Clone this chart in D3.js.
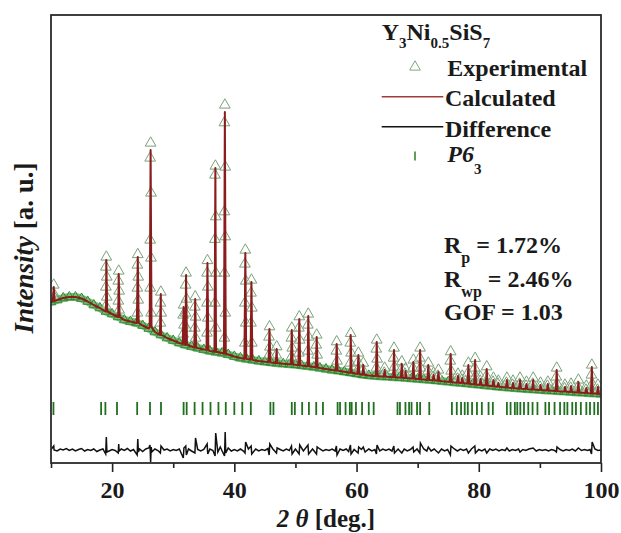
<!DOCTYPE html>
<html><head><meta charset="utf-8">
<script src="https://cdn.jsdelivr.net/npm/d3@7"></script>
<style>body{margin:0;background:#fff}svg{display:block}</style>
</head><body><svg id="c" width="621" height="533"></svg>
<script>
// ---------------- DATA ----------------
const xTicks = [20, 40, 60, 80, 100];
const xMinorTicks = [10, 30, 50, 70, 90];

// background (observed ≈ calculated) intensity, a.u.
const bgAngle = [10,11,12,13,14,15,16,17,18,19,20,21,22,23,24,25,26,27,28,29,30,31,32,33,34,35,36,37,38,39,40,41,42,43,44,45,46,47,48,49,50,51,52,53,54,55,56,57,58,59,60,61,62,63,64,65,66,67,68,69,70,71,72,73,74,75,76,77,78,79,80,81,82,83,84,85,86,87,88,89,90,91,92,93,94,95,96,97,98,99,100];
const bgInt = [1610,1630,1650,1660,1660,1645,1615,1580,1550,1515,1490,1460,1430,1415,1400,1375,1345,1310,1280,1250,1225,1200,1180,1165,1150,1135,1120,1110,1100,1085,1065,1050,1040,1030,1020,1012,1005,998,992,987,982,975,968,960,950,940,930,922,912,903,893,882,875,870,866,862,858,854,850,845,840,835,830,824,818,812,806,800,794,788,782,776,770,763,757,752,747,742,738,734,730,726,722,718,714,710,706,702,698,694,690];

// reflections: position, background under peak, calculated top, observed points (top first)
const peakAngle = [10.45,19.05,21.08,24.2,26.3,27.97,31.7,32.1,33.6,35.6,36.9,38.45,41.8,42.8,45.75,46.93,49.4,50.63,52.1,53.48,56.75,59.04,60.3,61.1,63.3,64.6,66.13,67.4,68.0,69.3,70.4,71.74,72.6,73.4,75.4,76.6,77.3,78.3,79.4,80.3,81.3,82.4,83.2,84.6,85.6,86.75,87.8,88.9,90.1,91.3,92.75,94.1,95.1,96.3,97.6,98.5,99.5];
const peakBase = [1620,1515,1460,1400,1360,1280,1190,1182,1155,1132,1112,1093,1042,1036,1010,1000,987,978,967,955,925,903,890,882,869,864,857,853,850,844,838,831,827,822,810,803,800,792,786,780,774,767,762,754,750,743,740,734,730,725,719,714,710,704,700,696,692];
const peakCalc = [1760,2030,1890,2060,3130,1690,1560,1880,1640,2000,2950,3510,2100,1810,1340,1140,1330,1440,1470,1260,1190,1280,1080,980,1210,930,1130,990,920,1010,1130,980,880,910,1090,870,850,980,1030,840,940,830,800,830,800,830,790,830,780,790,930,760,770,810,750,960,760];
const peakObs = [
 [1780,1700,1660],
 [2060,1960,1860,1760,1660,1570],
 [1920,1820,1720,1620,1530],
 [2085,1980,1860,1750,1630,1500],
 [3200,3050,2700,2230,2050,1750,1500],
 [1710,1600,1500,1400],
 [1580,1480,1380,1290],
 [1900,1780,1640,1500,1350],
 [1663,1560,1460,1350,1250],
 [2025,1900,1760,1600,1450,1300],
 [2970,2880,2463,2237,1900,1600,1350],
 [3580,3403,2960,2513,2263,1900,1500,1250],
 [2130,1990,1820,1600,1400,1200],
 [1830,1700,1550,1400,1200],
 [1363,1260,1160,1080],
 [1163,1080],
 [1350,1250,1150,1060],
 [1463,1350,1230,1100],
 [1490,1380,1260,1120],
 [1280,1180,1080],
 [1213,1120,1020],
 [1297,1200,1100,1000],
 [1100,1010,950],
 [1000,930],
 [1230,1140,1040,950],
 [950,900],
 [1150,1050,960],
 [1013,940],
 [940,890],
 [1030,950],
 [1150,1050,950],
 [1000,920],
 [900,860],
 [930,870],
 [1113,1020,920],
 [890,840],
 [870,830],
 [1000,900],
 [1047,950,870],
 [860,820],
 [963,870],
 [850,810],
 [820,790],
 [850,800],
 [820,780],
 [850,790],
 [810,770],
 [850,790],
 [800,760],
 [810,770],
 [950,860,790],
 [780,745],
 [790,750],
 [830,760],
 [770,730],
 [980,880,790],
 [780,730]
];

// Bragg reflection positions, P6_3
const braggAngle = [10.4,18.2,18.9,20.8,24.1,26.2,28.0,31.7,32.2,33.5,34.8,36.1,37.4,38.6,40.0,41.3,42.7,45.9,46.4,49.4,49.9,51.1,52.2,53.4,54.5,56.9,57.3,58.2,58.9,59.2,59.9,60.9,62.0,62.8,66.7,67.1,68.0,68.6,69.0,69.9,70.4,71.9,75.6,76.4,77.1,77.7,78.2,78.9,79.7,80.5,81.6,82.3,84.6,85.2,85.9,86.3,86.8,87.4,88.1,88.8,89.6,90.9,91.5,92.4,93.3,94.0,94.5,95.3,95.9,96.7,97.6,98.2,98.9,99.5];

// difference curve (obs - calc), a.u.
const diffAngle = [10.0,10.45,10.5,11.0,11.5,12.0,12.5,13.0,13.5,14.0,14.5,15.0,15.5,16.0,16.5,17.0,17.5,18.0,18.5,18.95,19.05,19.15,19.5,20.0,20.5,21.0,21.08,21.15,21.5,22.0,22.5,23.0,23.5,24.1,24.2,24.3,24.5,25.0,25.5,26.0,26.2,26.3,26.4,26.5,27.0,27.5,27.9,28.0,28.5,29.0,29.5,30.0,30.5,31.0,31.65,31.75,32.05,32.15,32.5,33.0,33.55,33.65,34.0,34.5,35.0,35.55,35.65,36.0,36.5,36.85,36.95,37.3,37.7,38.0,38.4,38.5,38.6,39.0,39.5,40.0,40.5,41.0,41.5,41.75,41.85,42.3,42.75,42.85,43.5,44.0,44.5,45.0,45.5,45.7,45.8,46.3,46.9,47.0,47.5,48.0,48.5,49.0,49.35,49.45,50.0,50.6,50.7,51.3,52.05,52.15,52.8,53.45,53.55,54.0,54.5,55.0,55.5,56.0,56.5,56.7,56.8,57.3,57.8,58.3,58.7,59.0,59.1,59.6,60.25,60.35,60.8,61.1,61.4,62.0,62.5,63.0,63.25,63.35,63.8,64.3,64.8,65.3,65.8,66.1,66.2,66.8,67.4,67.8,68.3,68.8,69.25,69.35,69.9,70.35,70.45,71.0,71.5,71.74,72.2,72.7,73.4,73.9,74.4,74.9,75.35,75.45,76.0,76.5,77.0,77.5,78.0,78.3,78.8,79.35,79.45,80.0,80.5,81.0,81.3,81.8,82.3,82.8,83.3,83.8,84.3,84.6,85.0,85.5,86.0,86.5,86.75,87.2,87.7,88.2,88.9,89.4,89.9,90.4,90.9,91.4,91.9,92.4,92.7,92.8,93.3,93.8,94.3,94.8,95.3,95.8,96.3,96.8,97.3,97.8,98.2,98.45,98.55,99.0,99.5,100.0];
const diffVal = [5,40,0,-10,10,0,15,-5,10,-10,5,15,-10,5,-5,10,-15,0,10,-40,130,-20,-10,5,-5,-30,60,-10,10,-5,15,-10,5,-50,110,-20,10,-15,10,20,50,-120,30,-20,10,-5,-30,40,0,10,-10,5,-5,10,-80,20,40,-50,10,-10,-30,120,5,-10,5,60,-40,10,-5,-60,170,-20,30,-10,-60,180,-30,20,-10,5,-10,10,-10,-30,80,10,40,-40,10,-10,5,-5,15,-50,60,10,-30,20,5,-10,10,-5,40,-40,10,-40,50,-10,50,-40,10,-40,30,10,-10,5,-5,10,-10,40,-50,10,-5,10,-15,50,-40,5,-30,30,5,30,-20,10,-10,5,-40,50,-10,10,-5,10,-10,40,-30,10,-30,10,-10,5,30,-20,10,-30,70,10,-10,30,-10,10,-30,10,-10,5,-50,40,10,-10,10,-5,10,-30,10,40,-30,5,-10,10,-30,10,-5,10,-10,5,-5,20,-10,5,-5,10,-20,5,-5,10,20,-10,5,-5,5,-10,5,-5,-20,30,5,-10,5,-5,10,-10,20,-5,5,-5,5,-40,80,10,-5,0];

// ---------------- DRAWING ----------------
const SERIF = '"Liberation Serif","Times New Roman",serif';
const diffOffset = 130;
const braggLevel = 545;

const svg = d3.select('#c');
const x = d3.scaleLinear().domain([10, 100]).range([51, 601]);
const y = d3.scaleLinear().domain([0, 4480]).range([463, 15]);

svg.append('defs').append('clipPath').attr('id', 'clip')
  .append('rect').attr('x', 51).attr('y', 15).attr('width', 550).attr('height', 448);
const g = svg.append('g').attr('clip-path', 'url(#clip)');

const bgPts = bgAngle.map((a, i) => [a, bgInt[i]]);
const line = d3.line().x(d => x(d[0])).y(d => y(d[1]));

// observed band
g.append('path').datum(bgPts).attr('d', line)
  .attr('fill', 'none').attr('stroke', '#4fa64f').attr('stroke-width', 8)
  .attr('stroke-opacity', 0.75).attr('stroke-linejoin', 'round');

const tri = d3.symbol(d3.symbolTriangle, 40);
const triPk = d3.symbol(d3.symbolTriangle, 50);
// observed points on background
g.selectAll('.obsbg').data(bgPts).join('path')
  .attr('d', tri).attr('transform', d => `translate(${x(d[0])},${y(d[1])})`)
  .attr('fill', 'none').attr('stroke', '#2f8a2f').attr('stroke-width', 1);

// observed points on reflections
const obsPk = [];
peakAngle.forEach((a, i) => {
  peakObs[i].forEach((v, j) => {
    const off = j === 0 ? 0 : (j % 2 ? -0.07 : 0.07);
    obsPk.push([a + off, v]);
  });
});
g.selectAll('.obspk').data(obsPk).join('path')
  .attr('d', triPk).attr('transform', d => `translate(${x(d[0])},${y(d[1])})`)
  .attr('fill', 'rgba(255,255,255,0.35)').attr('stroke', '#7aa27a').attr('stroke-width', 1);

// calculated profile
const calcPts = bgPts.slice();
peakAngle.forEach((a, i) => {
  calcPts.push([a - 0.15, peakBase[i]], [a, peakCalc[i]], [a + 0.15, peakBase[i]]);
});
calcPts.sort((p, q) => p[0] - q[0]);
g.append('path').datum(calcPts).attr('d', line)
  .attr('fill', 'none').attr('stroke', '#8b1c1c').attr('stroke-width', 2)
  .attr('stroke-linejoin', 'round');

// Bragg ticks
g.selectAll('.bragg').data(braggAngle).join('line')
  .attr('x1', d => x(d)).attr('x2', d => x(d))
  .attr('y1', y(braggLevel) - 6.5).attr('y2', y(braggLevel) + 6.5)
  .attr('stroke', '#1f701f').attr('stroke-width', 1.8);

// difference
const diffPts = diffAngle.map((a, i) => [a, diffOffset + diffVal[i]]);
g.append('path').datum(diffPts).attr('d', line)
  .attr('fill', 'none').attr('stroke', '#111').attr('stroke-width', 1.5);

// axes
const axMaj = d3.axisBottom(x).tickValues(xTicks).tickSize(9).tickFormat(d3.format('d'));
const axMin = d3.axisBottom(x).tickValues(xMinorTicks).tickSize(5).tickFormat('');
const gMin = svg.append('g').attr('transform', 'translate(0,463)').call(axMin);
const gMaj = svg.append('g').attr('transform', 'translate(0,463)').call(axMaj);
[gMin, gMaj].forEach(ag => {
  ag.select('.domain').remove();
  ag.selectAll('.tick line').attr('stroke', '#222').attr('stroke-width', 1.6);
});
gMaj.selectAll('.tick text').attr('y', 35).attr('dy', 0)
  .attr('font-family', SERIF).attr('font-weight', 'bold').attr('font-size', 24)
  .attr('fill', '#1a1a1a');

// frame
svg.append('rect').attr('x', 51).attr('y', 15).attr('width', 550).attr('height', 448)
  .attr('fill', 'none').attr('stroke', '#2b2b2b').attr('stroke-width', 1.8);

// text helper
function st(x0, y0, size, anchor) {
  return svg.append('text').attr('x', x0).attr('y', y0)
    .attr('font-family', SERIF).attr('font-weight', 'bold').attr('font-size', size)
    .attr('text-anchor', anchor || 'start').attr('fill', '#1a1a1a');
}
function addRuns(t, runs) {
  let shift = 0;
  runs.forEach(r => {
    const ts = t.append('tspan').text(r.t);
    const target = r.sub ? r.sub : 0;
    if (target !== shift) { ts.attr('dy', target - shift); shift = target; }
    if (r.size) ts.attr('font-size', r.size);
    if (r.it) ts.attr('font-style', 'italic');
  });
}

// legend
addRuns(st(381.7, 40, 24), [{t:'Y'},{t:'3',sub:8,size:15},{t:'Ni'},{t:'0.5',sub:8,size:15},{t:'SiS'},{t:'7',sub:8,size:15}]);
svg.append('path').attr('d', d3.symbol(d3.symbolTriangle, 50)).attr('transform', 'translate(415,67)')
  .attr('fill', 'none').attr('stroke', '#7fa87f').attr('stroke-width', 1);
st(447.3, 76, 24).text('Experimental');
svg.append('line').attr('x1', 381.7).attr('x2', 443.3).attr('y1', 96.7).attr('y2', 96.7)
  .attr('stroke', '#a33a3a').attr('stroke-width', 1.6);
st(445, 106, 24).text('Calculated');
svg.append('line').attr('x1', 381.7).attr('x2', 443.3).attr('y1', 126.7).attr('y2', 126.7)
  .attr('stroke', '#111').attr('stroke-width', 1.6);
st(445, 136.7, 24).text('Difference');
svg.append('line').attr('x1', 415).attr('x2', 415).attr('y1', 151.5).attr('y2', 160.5)
  .attr('stroke', '#2a7d2a').attr('stroke-width', 1.5);
addRuns(st(447.3, 162, 24), [{t:'P6',it:true},{t:'3',sub:12,size:15}]);

// refinement factors
addRuns(st(444, 253.3, 24), [{t:'R'},{t:'p',sub:10,size:16},{t:' = 1.72%'}]);
addRuns(st(444, 286.7, 24), [{t:'R'},{t:'wp',sub:10,size:16},{t:' = 2.46%'}]);
st(444, 320, 24).text('GOF = 1.03');

// axis titles
addRuns(st(326, 527, 25, 'middle'), [{t:'2 ',it:true},{t:'θ',it:true},{t:' [deg.]'}]);
const yt = svg.append('text').attr('transform', 'translate(33,248) rotate(-90)')
  .attr('font-family', SERIF).attr('font-weight', 'bold').attr('font-size', 27)
  .attr('text-anchor', 'middle').attr('fill', '#1a1a1a');
addRuns(yt, [{t:'Intensity',it:true},{t:' [a. u.]'}]);
</script>
</body></html>
